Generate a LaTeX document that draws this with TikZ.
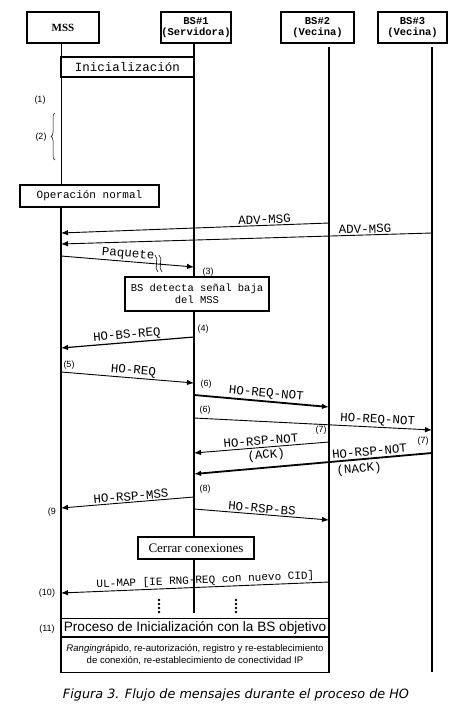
\documentclass[tikz,border=0pt]{standalone}
\usepackage{fontspec}
\setmainfont{Liberation Serif}
\newfontfamily\lmono{Liberation Mono}
\newfontfamily\lsans{Liberation Sans}
\newfontfamily\lcap{DejaVu Sans}
\usetikzlibrary{
  positioning,
  arrows.meta,
  decorations.pathreplacing
}
\tikzset{
  >=Latex,
  head/.style={rectangle,draw,line width=1.6pt,align=center,inner sep=0pt,minimum height=31pt},
  stepbox/.style={rectangle,draw,line width=1.5pt,fill=white,align=center,inner sep=0pt},
  endbox/.style={rectangle,draw,line width=0.8pt,fill=white,align=center,inner sep=0pt,minimum width=269pt},
  life/.style={line width=2.6pt},
  thinlife/.style={line width=0.8pt},
  msg/.style={-{Latex[length=7pt,width=5.5pt]},line width=0.9pt},
  msgbold/.style={msg,line width=1.8pt},
  lbl/.style={font=\lmono\fontsize{12.5}{13}\selectfont,sloped,inner sep=1.2pt},
  sub/.style={font=\lmono\fontsize{12.5}{13}\selectfont,sloped,inner sep=0pt},
  num/.style={font=\lsans\fontsize{9}{10}\selectfont,inner sep=0pt}
}

\begin{document}
\begin{tikzpicture}[x=1pt,y=-1pt]
    \useasboundingbox (0,0) rectangle (456,706);

    % cabeceras
    \node[head,minimum width=72pt,font=\bfseries\fontsize{11}{12}\selectfont] (mss) at (63,27.5) {MSS};
    \node[head,minimum width=70pt,font=\lmono\bfseries\fontsize{10.5}{11}\selectfont] (bs1) at (196,27.5) {BS\#1\\(Servidora)};
    \node[head,minimum width=73pt,font=\lmono\bfseries\fontsize{10.5}{11}\selectfont] (bs2) at (317.5,27.5) {BS\#2\\(Vecina)};
    \node[head,minimum width=69pt,font=\lmono\bfseries\fontsize{10.5}{11}\selectfont] (bs3) at (412.5,27.5) {BS\#3\\(Vecina)};

    % lineas de vida
    \coordinate (msstop) at (61,43);  \coordinate (mssbot) at (61,672);
    \coordinate (bs1top) at (194,43); \coordinate (bs1bot) at (194,613);
    \coordinate (bs2top) at (329,47); \coordinate (bs2bot) at (329,672);
    \coordinate (bs3top) at (432,47); \coordinate (bs3bot) at (432,672);

    \node[stepbox,minimum width=139pt,minimum height=22pt,font=\lmono\fontsize{11}{12}\selectfont] (opn) at (89.5,196) {Operación normal};

    \draw[thinlife] (msstop) -- (msstop |- opn.north);
    \draw[life,line width=2.2pt] (bs1top) -- (bs1bot);
    \draw[life] (bs2top) -- (bs2bot);
    \draw[life] (bs3top) -- (bs3bot);

    % cajas sobre las lineas
    \node[stepbox,minimum width=133pt,minimum height=20pt,font=\lmono\fontsize{12.5}{13}\selectfont] (ini) at (127.5,67) {Inicialización};
    \node[stepbox,minimum width=144pt,minimum height=34pt,font=\lmono\fontsize{10.5}{12}\selectfont] (det) at (197,294) {BS detecta señal baja\\del MSS};
    \node[stepbox,minimum width=116pt,minimum height=22pt,font=\fontsize{13}{14}\selectfont] (cerrar) at (196,548) {Cerrar conexiones};

    % (1) y (2)
    \node[num] (n1) at (40,100) {(1)};
    \node[num] (n2) at (41,137) {(2)};
    \draw[line width=0.5pt,decorate,decoration={brace,amplitude=4pt}] (55,160) -- (55,113);

    % mensajes
    \coordinate (adv1a) at (329,223); \coordinate (adv1b) at (61,233);
    \draw[msg] (adv1a) -- node[lbl,above,pos=.24]{ADV-MSG} (adv1b);
    \coordinate (adv2a) at (432,233); \coordinate (adv2b) at (61,244);
    \draw[msg] (adv2a) -- node[lbl,above,pos=.18]{ADV-MSG} (adv2b);

    \coordinate (paqa) at (61,256); \coordinate (paqb) at (194,267);
    \draw[msg] (paqa) -- node[lbl,above,pos=.5]{Paquete} (paqb);
    \draw[line width=0.6pt] (155,255) .. controls (160,259) and (153,268) .. (158,272);
    \draw[line width=0.6pt] (159,255) .. controls (164,259) and (157,268) .. (162,272);
    \node[num] (n3) at (208,272) {(3)};

    \node[num] (n4) at (203,329) {(4)};
    \coordinate (bsreqa) at (194,337); \coordinate (bsreqb) at (61,348);
    \draw[msg,line width=1.2pt] (bsreqa) -- node[lbl,above,pos=.5]{HO-BS-REQ} (bsreqb);

    \node[num] (n5) at (69,365) {(5)};
    \coordinate (reqa) at (61,372); \coordinate (reqb) at (194,383);
    \draw[msg] (reqa) -- node[lbl,above,pos=.54]{HO-REQ} (reqb);

    \node[num] (n6a) at (206,384) {(6)};
    \coordinate (not1a) at (194,395); \coordinate (not1b) at (329,407);
    \draw[msgbold] (not1a) -- node[lbl,above,pos=.53]{HO-REQ-NOT} (not1b);

    \node[num] (n6b) at (205,410) {(6)};
    \coordinate (not2a) at (194,418); \coordinate (not2b) at (432,430);
    \draw[msg] (not2a) -- node[lbl,above,pos=.77]{HO-REQ-NOT} (not2b);

    \node[num] (n7a) at (321,430) {(7)};
    \coordinate (ack1a) at (329,442); \coordinate (ack1b) at (194,453);
    \draw[msg] (ack1a) -- node[sub,above,pos=.5,yshift=2pt]{HO-RSP-NOT}
                           node[sub,below,pos=.47,yshift=-2pt]{(ACK)} (ack1b);

    \node[num] (n7b) at (423,441) {(7)};
    \coordinate (ack2a) at (432,453); \coordinate (ack2b) at (194,474);
    \draw[msgbold] (ack2a) -- node[sub,above,pos=.26,yshift=2pt]{HO-RSP-NOT}
                              node[sub,below,pos=.31,yshift=-3pt]{(NACK)} (ack2b);

    \node[num] (n8) at (205,489) {(8)};
    \coordinate (mssa) at (194,497); \coordinate (mssb) at (61,508);
    \draw[msg] (mssa) -- node[lbl,above,pos=.47]{HO-RSP-MSS} (mssb);
    \node[num] (n9) at (52,512) {(9};

    \coordinate (bsa) at (194,509); \coordinate (bsb) at (329,520);
    \draw[msg] (bsa) -- node[lbl,above,pos=.5]{HO-RSP-BS} (bsb);

    \coordinate (ulma) at (329,582); \coordinate (ulmb) at (61,593);
    \draw[msg] (ulma) -- node[lbl,above,pos=.46,font=\lmono\fontsize{11}{12}\selectfont]{UL-MAP [IE RNG-REQ con nuevo CID]} (ulmb);
    \node[num] (n10) at (47,593) {(10)};

    % puntos suspensivos
    \foreach \y in {600,604,608,612} {
      \fill (159,\y) circle (1.4pt);
      \fill (236,\y) circle (1.4pt);
    }

    % proceso final
    \node[endbox,minimum height=18pt,font=\lsans\fontsize{13.6}{14}\selectfont] (proc) at (195,627.5) {Proceso de Inicialización con la BS objetivo};
    \node[endbox,minimum height=35pt,font=\lsans\fontsize{9.6}{11.5}\selectfont,below=0pt of proc] (rang) {\textit{Ranging}rápido, re-autorización, registro y re-establecimiento\\de conexión, re-establecimiento de conectividad IP};
    \node[num] (n11) at (47,629) {(11)};

    \draw[life] (opn.south -| msstop) -- (mssbot);
    \draw[life] (bs2top |- proc.north) -- (bs2bot);

    \node[font=\lcap\itshape\fontsize{12.8}{14}\selectfont] (cap) at (236,695) {Figura 3. Flujo de mensajes durante el proceso de HO};
\end{tikzpicture}
\end{document}
